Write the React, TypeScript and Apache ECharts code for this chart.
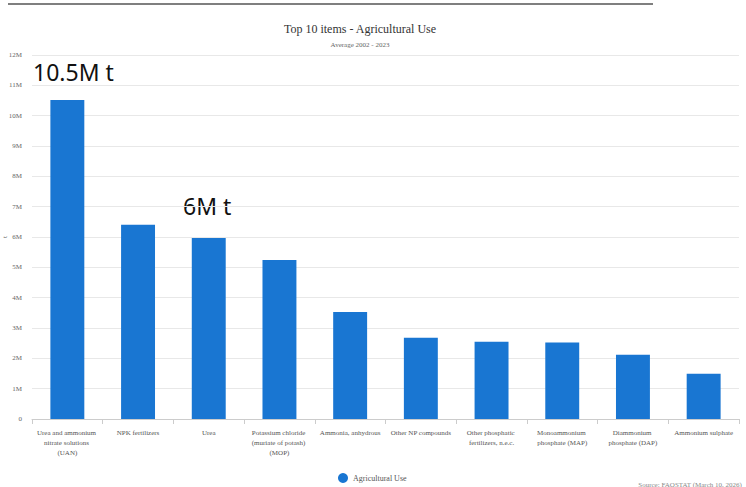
import React, { useEffect, useRef } from "react";
import * as echarts from "echarts";

const categories: string[] = [
  "Urea and ammonium nitrate solutions (UAN)",
  "NPK fertilizers",
  "Urea",
  "Potassium chloride (muriate of potash) (MOP)",
  "Ammonia, anhydrous",
  "Other NP compounds",
  "Other phosphatic fertilizers, n.e.c.",
  "Monoammonium phosphate (MAP)",
  "Diammonium phosphate (DAP)",
  "Ammonium sulphate",
];

const values: number[] = [
  10520000, 6400000, 5970000, 5240000, 3530000, 2680000, 2550000, 2520000, 2120000, 1490000,
];

const yTicks = { min: 0, max: 12000000, interval: 1000000 };

const titleText = "Top 10 items - Agricultural Use";
const subtitleText = "Average 2002 - 2023";
const seriesName = "Agricultural Use";
const yAxisName = "t";
const sourceText = "Source: FAOSTAT (March 10, 2026)";
const annotations = [
  { text: "10.5M t", x: 33, y: 60 },
  { text: "6M t", x: 183, y: 194 },
];

const serif = "'Liberation Serif', 'Times New Roman', serif";

export default function App() {
  const ref = useRef<HTMLDivElement>(null);
  useEffect(() => {
    if (!ref.current) return;
    const chart = echarts.init(ref.current, undefined, { renderer: "svg" });
    chart.setOption({
      animation: false,
      textStyle: { fontFamily: serif },
      title: {
        text: titleText,
        subtext: subtitleText,
        left: 355,
        textAlign: "center",
        top: 18,
        itemGap: 6,
        textStyle: { fontFamily: serif, fontSize: 12, fontWeight: "normal", color: "#333" },
        subtextStyle: { fontFamily: serif, fontSize: 7, color: "#666" },
      },
      legend: {
        data: [{ name: seriesName, icon: "circle" }],
        left: 333,
        top: 468,
        itemWidth: 10,
        itemHeight: 10,
        itemGap: 8,
        textStyle: { fontFamily: serif, fontSize: 8, color: "#555" },
      },
      grid: { left: 32, right: 7, top: 55, bottom: 68, containLabel: false, outerBoundsMode: "none" },
      xAxis: {
        type: "category",
        data: categories,
        axisLine: { lineStyle: { color: "#ccc" } },
        axisTick: { show: true, alignWithLabel: false, lineStyle: { color: "#ccc" }, length: 5 },
        axisLabel: {
          interval: 0,
          width: 66,
          overflow: "break",
          fontFamily: serif,
          fontSize: 7,
          lineHeight: 10,
          color: "#555",
          margin: 9,
        },
      },
      yAxis: {
        type: "value",
        min: yTicks.min,
        max: yTicks.max,
        interval: yTicks.interval,
        axisLine: { show: false },
        axisTick: { show: false },
        splitLine: { lineStyle: { color: "#e8e8e8", width: 1 } },
        axisLabel: {
          fontFamily: serif,
          fontSize: 7,
          color: "#666",
          margin: 10,
          formatter: (v: number) => (v === 0 ? "0" : `${v / 1000000}M`),
        },
      },
      series: [
        {
          name: seriesName,
          type: "bar",
          data: values,
          barWidth: "48%",
          itemStyle: { color: "#1976d2" },
        },
      ],
      graphic: [
        {
          type: "line",
          shape: { x1: 8, y1: 4, x2: 653, y2: 4 },
          style: { stroke: "#000", lineWidth: 1.2 },
        },
        {
          type: "text",
          x: 5,
          y: 237,
          rotation: Math.PI / 2,
          style: {
            text: yAxisName,
            fontFamily: serif,
            fontSize: 7,
            fill: "#555",
            align: "center",
            verticalAlign: "middle",
          },
        },
        ...annotations.map((a) => ({
          type: "text",
          x: a.x,
          y: a.y,
          style: { text: a.text, fontFamily: "'Noto Sans', sans-serif", fontSize: 23, fill: "#111" },
        })),
        {
          type: "text",
          right: 4,
          top: 481,
          style: { text: sourceText, fontFamily: serif, fontSize: 7, fill: "#888" },
        },
      ],
    });
    return () => chart.dispose();
  }, []);
  return <div ref={ref} style={{ width: 746, height: 487, position: "absolute", left: 0, top: 0 }} />;
}
